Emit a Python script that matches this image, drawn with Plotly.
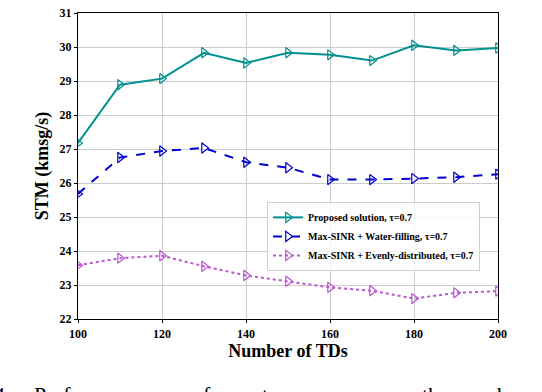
import plotly.graph_objects as go

num_tds = [100, 110, 120, 130, 140, 150, 160, 170, 180, 190, 200]
proposed = [27.18, 28.89, 29.07, 29.83, 29.53, 29.83, 29.77, 29.60, 30.05, 29.90, 29.97]
water_filling = [25.68, 26.75, 26.94, 27.03, 26.61, 26.45, 26.10, 26.10, 26.13, 26.17, 26.26]
evenly = [23.58, 23.79, 23.86, 23.55, 23.28, 23.11, 22.93, 22.83, 22.60, 22.77, 22.82]
y_ticks = [22, 23, 24, 25, 26, 27, 28, 29, 30, 31]
x_ticks = [100, 120, 140, 160, 180, 200]

# words of the figure caption, only their tops show at the bottom edge
caption_words = ['4.', 'Performance', 'of', 'system', 'versus', 'the', 'number']
caption_px = [-8, 32, 190, 232, 320, 420, 456]

font = "Liberation Serif"
plot_left, plot_width = 78, 420


def series(y, name, color, dash):
    return go.Scatter(x=num_tds, y=y, mode='lines+markers', name=name,
                      line=dict(color=color, width=2, dash=dash),
                      marker=dict(symbol='triangle-right-open', size=9,
                                  color=color, line=dict(width=1.2)))


fig = go.Figure()
fig.add_trace(series(proposed, 'Proposed solution, \u03c4=0.7', '#009090', 'solid'))
fig.add_trace(series(water_filling, 'Max-SINR + Water-filling, \u03c4=0.7', '#0000cd', 'dash'))
fig.add_trace(series(evenly, 'Max-SINR + Evenly-distributed, \u03c4=0.7', '#ba55d3', 'dot'))

axis_style = dict(showline=True, linecolor='black', linewidth=1.2, mirror=True,
                  showgrid=True, gridcolor='#cccccc', gridwidth=1,
                  ticks='outside', ticklen=3, tickcolor='black', zeroline=False,
                  ticklabeloverflow='allow',
                  tickfont=dict(family=font, size=12, color='black', weight='bold'))

fig.update_xaxes(range=[100, 200], tickvals=x_ticks,
                 title=dict(text='Number of TDs', standoff=4,
                            font=dict(family=font, size=18, color='black', weight='bold')),
                 **axis_style)
fig.update_yaxes(range=[22, 31], tickvals=y_ticks,
                 title=dict(text='STM (kmsg/s)', standoff=6,
                            font=dict(family=font, size=18, color='black', weight='bold')),
                 **axis_style)

for word, px in zip(caption_words, caption_px):
    fig.add_annotation(text=word, xref='paper', yref='paper',
                       x=(px - plot_left) / plot_width, y=-0.2,
                       xanchor='left', yanchor='top', showarrow=False,
                       font=dict(family=font, size=22, color='black'))

fig.update_layout(
    width=542, height=392,
    margin=dict(l=78, r=44, t=6, b=73),
    paper_bgcolor='white', plot_bgcolor='white',
    font=dict(family=font, color='black'),
    legend=dict(x=0.45, y=0.27, xanchor='left', yanchor='middle',
                bgcolor='rgba(255,255,255,0.8)', bordercolor='#d0d0d0', borderwidth=1,
                font=dict(family=font, size=10, color='black', weight='bold'),
                tracegroupgap=0, itemwidth=30),
    showlegend=True,
)

fig.write_html("out.html", config={'displayModeBar': False},
               post_script="document.body.style.margin='0';")
